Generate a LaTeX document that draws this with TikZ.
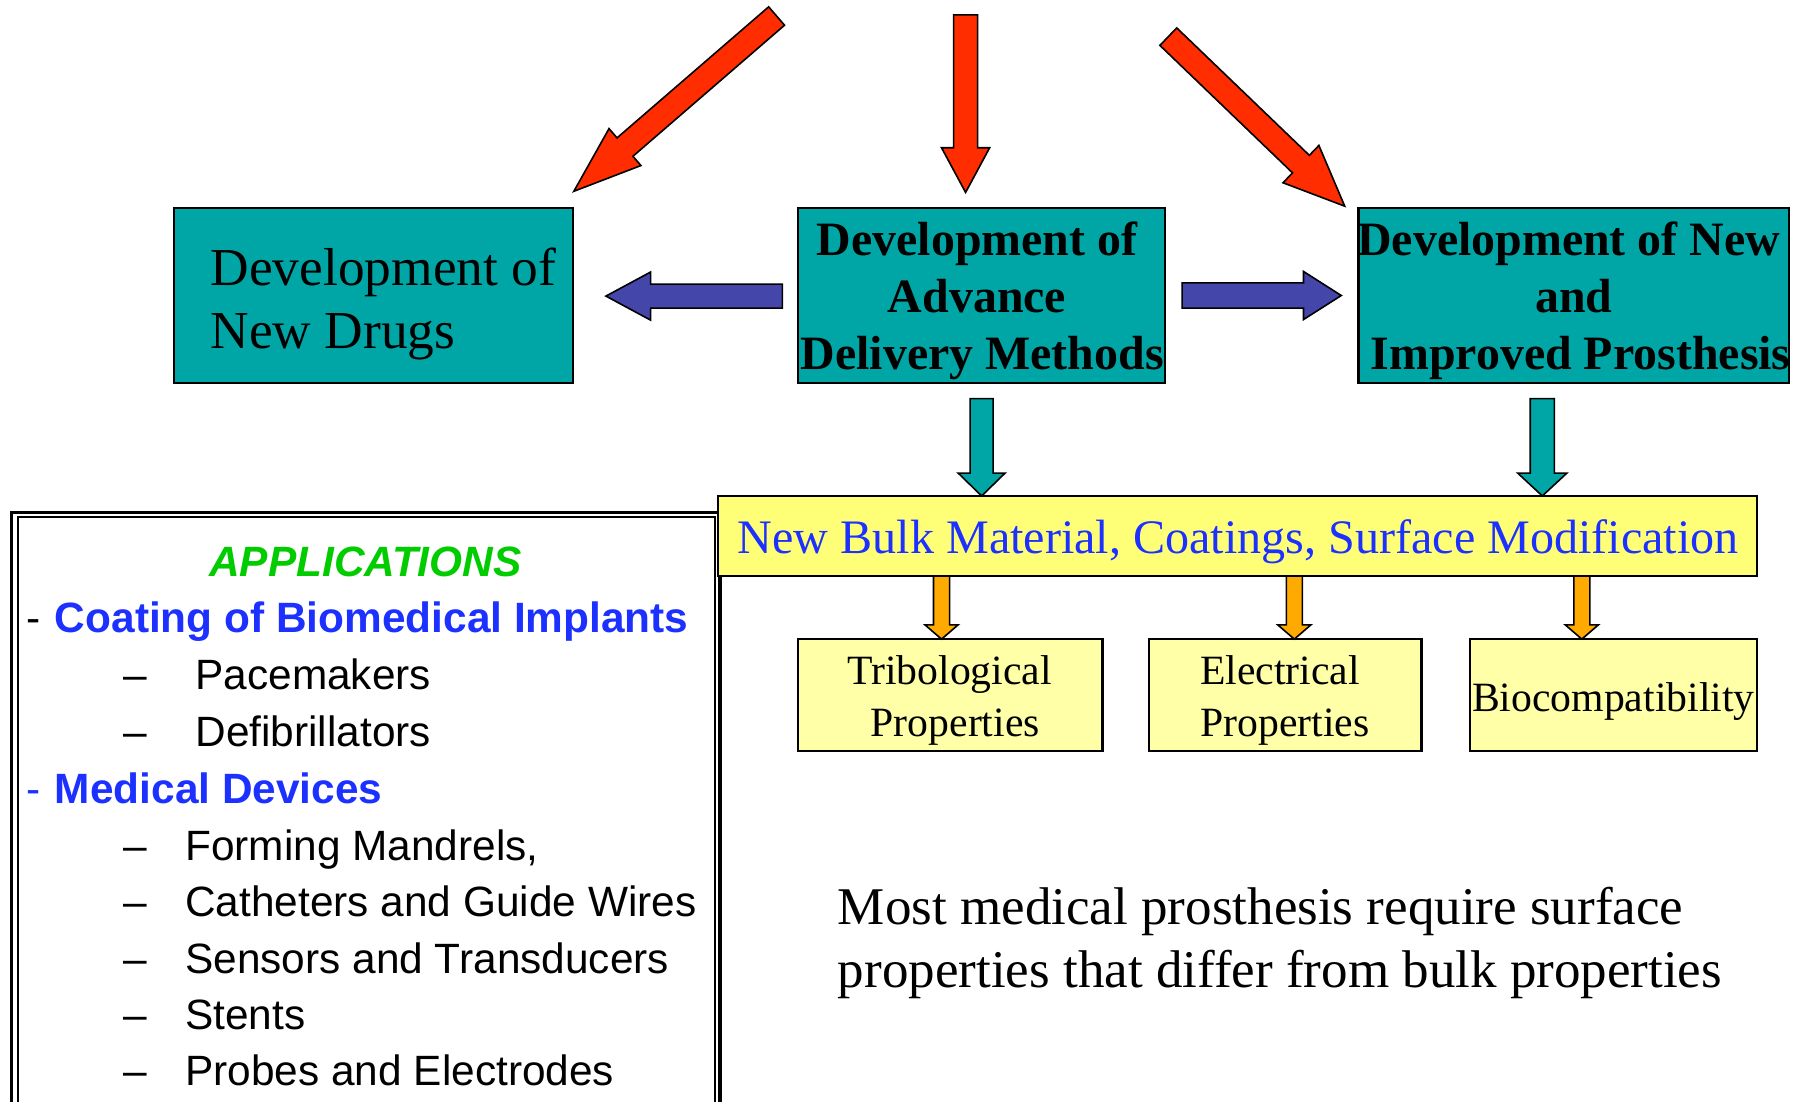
\documentclass[tikz,border=0pt]{standalone}
\usepackage{fontspec}
\setmainfont{Liberation Serif}
\newfontfamily\arialfont{Liberation Sans}
\usetikzlibrary{calc}

\definecolor{tealfill}{RGB}{0,166,166}
\definecolor{redfill}{RGB}{255,45,0}
\definecolor{bluefill}{RGB}{68,70,170}
\definecolor{orangefill}{RGB}{255,170,0}
\definecolor{bulkfill}{RGB}{255,255,119}
\definecolor{propfill}{RGB}{255,255,168}
\definecolor{linkblue}{RGB}{28,48,255}
\definecolor{appgreen}{RGB}{0,204,0}

% block arrow: style, tail, tip, half shaft width, half head width, head length
\newcommand\blkarrow[6]{%
  \path ($(#3)!#6!(#2)$) coordinate (hb);
  \draw[#1] ($(#2)!#4!90:(#3)$) -- ($(hb)!#4!90:(#3)$) -- ($(hb)!#5!90:(#3)$)
    -- (#3) -- ($(hb)!#5!-90:(#3)$) -- ($(hb)!#4!-90:(#3)$)
    -- ($(#2)!#4!-90:(#3)$) -- cycle;
}

\tikzset{
  boxbase/.style={draw=black, line width=0.9pt, inner sep=0pt, outer sep=0pt, rectangle},
  tealbox/.style={boxbase, fill=tealfill, minimum height=76pt},
  bulkbox/.style={boxbase, fill=bulkfill},
  propbox/.style={boxbase, fill=propfill, minimum height=49pt},
  txt/.style={inner sep=0pt, outer sep=0pt, anchor=base},
  arrowbase/.style={draw=black, line width=0.7pt, line join=miter},
  redarrow/.style={arrowbase, fill=redfill},
  bluearrow/.style={arrowbase, fill=bluefill},
  tealarrow/.style={arrowbase, fill=tealfill},
  orangearrow/.style={arrowbase, fill=orangefill},
  drugfont/.style={font=\fontsize{23.3pt}{28pt}\selectfont},
  headfont/.style={font=\bfseries\fontsize{20.9pt}{25pt}\selectfont},
  bulkfont/.style={font=\fontsize{21pt}{25pt}\selectfont, text=linkblue},
  propfont/.style={font=\fontsize{18.2pt}{22pt}\selectfont},
  notefont/.style={font=\fontsize{23.15pt}{28pt}\selectfont},
  appfont/.style={font=\arialfont\fontsize{18.5pt}{22pt}\selectfont},
  appbold/.style={font=\arialfont\bfseries\fontsize{18.5pt}{22pt}\selectfont, text=linkblue},
}

\begin{document}
\begin{tikzpicture}[x=0.5pt, y=-0.5pt]
\useasboundingbox (0,0) rectangle (1568,962);
\fill[white] (0,0) rectangle (1568,962);
\clip (0,0) rectangle (1568,962);

% applications frame (double rule, runs past the lower edge)
\node[draw=black, line width=1.4pt, inner sep=0pt, minimum width=309.25pt, minimum height=271.25pt] (appsouter) at (319.25,718.75) {};
\node[draw=black, line width=0.9pt, inner sep=0pt, minimum width=304.4pt, minimum height=266.75pt] (appsinner) at (319.9,718.25) {};

% main boxes
\node[tealbox, minimum width=174pt] (drugs) at (326,258) {};
\node[tealbox, minimum width=160pt] (deliv) at (857,258) {};
\node[tealbox, minimum width=188pt] (prosth) at (1374,258) {};
\node[bulkbox, minimum width=453.5pt, minimum height=34.75pt] (bulk) at (1080.5,467.75) {};
\node[propbox, minimum width=132.75pt] (trib) at (829.75,607) {};
\node[propbox, minimum width=118.75pt] (elec) at (1122.25,607) {};
\node[propbox, minimum width=125.5pt] (bio) at (1408.5,607) {};

% box texts
\node[txt, anchor=base west, drugfont] (drugsA) at (184,249) {Development of};
\node[txt, anchor=base west, drugfont] (drugsB) at (184,304) {New Drugs};

\node[txt, headfont] (delivA) at (853,223) {Development of};
\node[txt, headfont] (delivB) at (853,273) {Advance};
\node[txt, headfont] (delivC) at (857.5,323) {Delivery Methods};

\node[txt, headfont] (prosthA) at (1369.5,223) {Development of New};
\node[txt, headfont] (prosthB) at (1374,273) {and};
\node[txt, headfont] (prosthC) at (1380,323) {Improved Prosthesis};

\node[txt, bulkfont] (bulkA) at (1081,483) {New Bulk Material, Coatings, Surface Modification};

\node[txt, propfont] (tribA) at (829,598) {Tribological};
\node[txt, propfont] (tribB) at (834,643) {Properties};
\node[txt, propfont] (elecA) at (1117.6,598) {Electrical};
\node[txt, propfont] (elecB) at (1122,643) {Properties};
\node[txt, propfont] (bioA) at (1408.5,621.5) {Biocompatibility};

% closing remark
\node[txt, anchor=base west, notefont] (noteA) at (731.6,806.7) {Most medical prosthesis require surface};
\node[txt, anchor=base west, notefont] (noteB) at (731.6,862) {properties that differ from bulk properties};

% applications list
\node[txt, font=\arialfont\bfseries\itshape\fontsize{18.5pt}{22pt}\selectfont, text=appgreen] (apphead) at (319,503.6) {APPLICATIONS};
\node[txt, anchor=base west, appfont] (dashA) at (23.5,552.1) {-};
\node[txt, anchor=base west, appbold] (groupA) at (48,552.1) {Coating of Biomedical Implants};
\node[txt, anchor=base west, appfont] (dashA1) at (107.7,602.4) {–};
\node[txt, anchor=base west, appfont] (itemA1) at (170.7,602.4) {Pacemakers};
\node[txt, anchor=base west, appfont] (dashA2) at (107.7,652) {–};
\node[txt, anchor=base west, appfont] (itemA2) at (170.7,652) {Defibrillators};
\node[txt, anchor=base west, appfont, text=linkblue] (dashB) at (23.5,701.3) {-};
\node[txt, anchor=base west, appbold] (groupB) at (48,701.3) {Medical Devices};
\node[txt, anchor=base west, appfont] (dashB1) at (107.7,751.5) {–};
\node[txt, anchor=base west, appfont] (itemB1) at (161.8,751.5) {Forming Mandrels,};
\node[txt, anchor=base west, appfont] (dashB2) at (107.7,800.2) {–};
\node[txt, anchor=base west, appfont] (itemB2) at (161.8,800.2) {Catheters and Guide Wires};
\node[txt, anchor=base west, appfont] (dashB3) at (107.7,849.5) {–};
\node[txt, anchor=base west, appfont] (itemB3) at (161.8,849.5) {Sensors and Transducers};
\node[txt, anchor=base west, appfont] (dashB4) at (107.7,899) {–};
\node[txt, anchor=base west, appfont] (itemB4) at (161.8,899) {Stents};
\node[txt, anchor=base west, appfont] (dashB5) at (107.7,947.6) {–};
\node[txt, anchor=base west, appfont] (itemB5) at (161.8,947.6) {Probes and Electrodes};

% incoming red arrows from above
\coordinate (redLtail) at (678,14);
\coordinate (redLtip) at ($(drugs.north east)+(1,-15)$);
\coordinate (redCtail) at (843,13);
\coordinate (redCtip) at ($(deliv.north)+(-14,-14)$);
\coordinate (redRtail) at (1020,32);
\coordinate (redRtip) at ($(prosth.north west)+(-12,-2)$);
\blkarrow{redarrow}{redLtail}{redLtip}{5.3pt}{10.65pt}{29.5pt}
\blkarrow{redarrow}{redCtail}{redCtip}{5.25pt}{10.5pt}{19.5pt}
\blkarrow{redarrow}{redRtail}{redRtip}{5.3pt}{11.3pt}{26.5pt}

% sideways arrows out of the delivery box
\coordinate (blueLtail) at ($(deliv.west)+(-14,0.5)$);
\coordinate (blueLtip) at ($(drugs.east)+(29,0.5)$);
\coordinate (blueRtail) at ($(deliv.east)+(15,0)$);
\coordinate (blueRtip) at ($(prosth.west)+(-15,0)$);
\blkarrow{bluearrow}{blueLtail}{blueLtip}{5.25pt}{10.5pt}{19.5pt}
\blkarrow{bluearrow}{blueRtail}{blueRtip}{5.5pt}{10.5pt}{16.5pt}

% down into the materials box
\coordinate (tealLtail) at ($(deliv.south)+(0,14)$);
\coordinate (tealLtip) at (tealLtail |- bulk.north);
\coordinate (tealRtail) at ($(prosth.south)+(-27.5,14)$);
\coordinate (tealRtip) at (tealRtail |- bulk.north);
\blkarrow{tealarrow}{tealLtail}{tealLtip}{5pt}{10.25pt}{10pt}
\blkarrow{tealarrow}{tealRtail}{tealRtip}{5.25pt}{10.75pt}{10pt}

% down into the property boxes
\coordinate (orgAtail) at (822,503);
\coordinate (orgAtip) at (orgAtail |- trib.north);
\coordinate (orgBtail) at (1130,503);
\coordinate (orgBtip) at (orgBtail |- elec.north);
\coordinate (orgCtail) at (1381,503);
\coordinate (orgCtip) at (orgCtail |- bio.north);
\blkarrow{orangearrow}{orgAtail}{orgAtip}{3.5pt}{7.25pt}{6.25pt}
\blkarrow{orangearrow}{orgBtail}{orgBtip}{3.5pt}{7.25pt}{6.25pt}
\blkarrow{orangearrow}{orgCtail}{orgCtip}{3.5pt}{7.25pt}{6.25pt}
\end{tikzpicture}
\end{document}
